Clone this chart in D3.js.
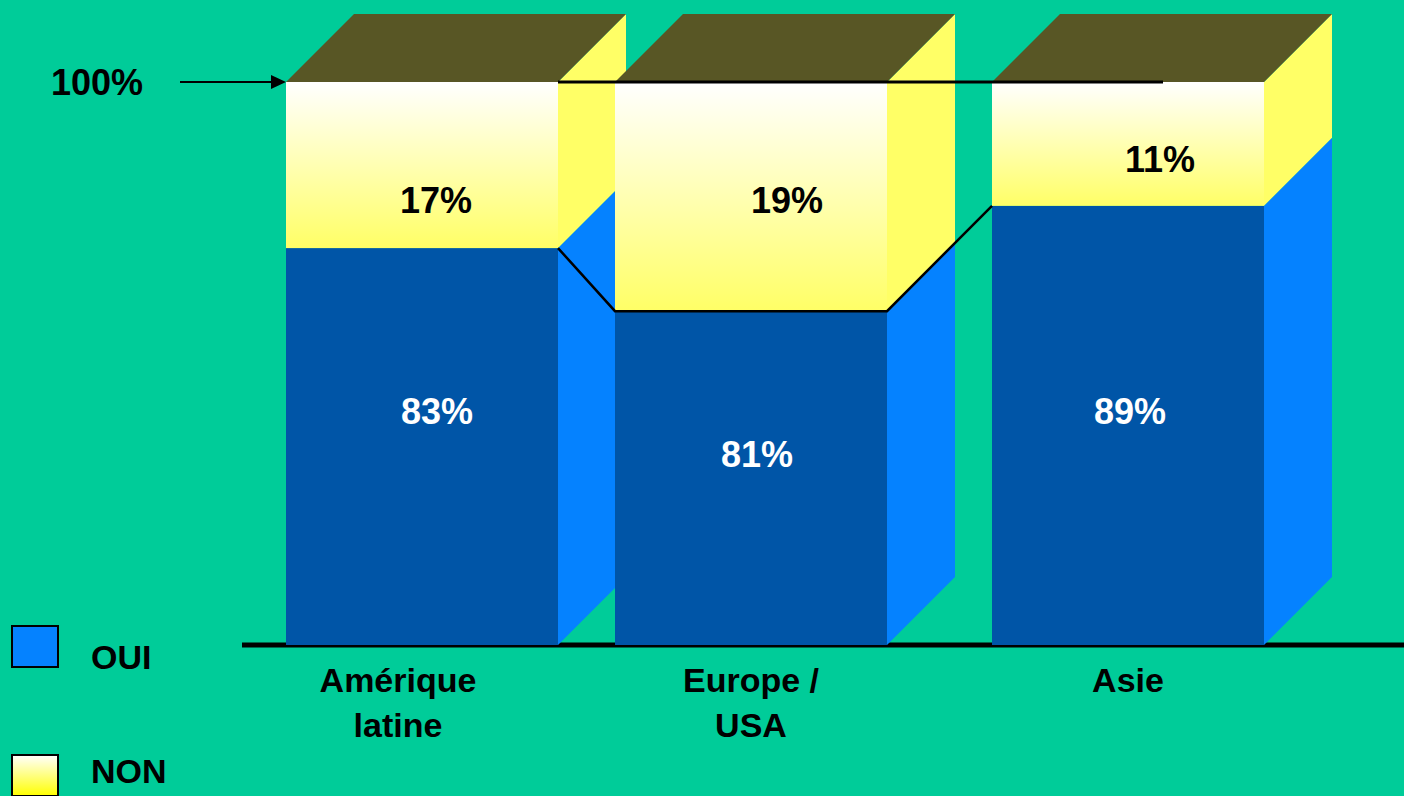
<!DOCTYPE html>
<html><head><meta charset="utf-8">
<script src="https://cdn.jsdelivr.net/npm/d3@7"></script>
<style>
html,body{margin:0;padding:0;background:#00CC99;}
svg{display:block;}
text{font-family:"Liberation Sans",Arial,sans-serif;font-weight:bold;fill:#000;}
</style></head>
<body>
<svg id="chart" width="1404" height="796"></svg>
<script>
// ---- data ----
const categories = ["Amérique latine", "Europe / USA", "Asie"];
const categoryLines = [["Amérique", "latine"], ["Europe /", "USA"], ["Asie"]];
const ouiValues = [83, 81, 89];          // labelled "OUI" share (%)
const nonValues = [17, 19, 11];          // labelled "NON" share (%)
const ouiDrawn = [70.5, 59.3, 78.0];     // height of the blue part as drawn (share of the 100% bar)
const seriesNames = ["OUI", "NON"];
const topLabel = "100%";

// ---- layout ----
const W = 1404, H = 796;
const svg = d3.select("#chart");
const depth = 68;
const barW = 272;

const y = d3.scaleLinear().domain([0, 100]).range([645, 82]);
const x = d3.scaleOrdinal().domain(categories).range([286, 615, 992]);

const colFrontBlue = "#0055A7", colSideBlue = "#0582FF";
const colSideYellow = "#FFFF66", colTop = "#585625";

const defs = svg.append("defs");
const grad = defs.append("linearGradient").attr("id", "nonGrad")
  .attr("x1", 0).attr("y1", 0).attr("x2", 0).attr("y2", 1);
grad.append("stop").attr("offset", "0%").attr("stop-color", "#FFFFFF");
grad.append("stop").attr("offset", "100%").attr("stop-color", "#FFFF66");
const gradL = defs.append("linearGradient").attr("id", "legGrad")
  .attr("x1", 0).attr("y1", 0).attr("x2", 0).attr("y2", 1);
gradL.append("stop").attr("offset", "0%").attr("stop-color", "#FFFFFF");
gradL.append("stop").attr("offset", "100%").attr("stop-color", "#FFFF00");

// background
svg.append("rect").attr("width", W).attr("height", H).attr("fill", "#00CC99");

// axis baseline
svg.append("line").attr("x1", 242).attr("x2", W).attr("y1", y(0)).attr("y2", y(0))
  .attr("stroke", "#000").attr("stroke-width", 5);

const bars = categories.map((c, i) => ({ c, i, oui: ouiValues[i], non: nonValues[i], drawn: ouiDrawn[i] }));

const g = svg.append("g");
bars.forEach(d => {
  const x0 = x(d.c), x1 = x0 + barW;
  const yb = y(0), ys = y(d.drawn), yt = y(100);
  const bg = g.append("g");
  // side faces
  bg.append("polygon").attr("fill", colSideBlue)
    .attr("points", [[x1, yb], [x1 + depth, yb - depth], [x1 + depth, ys - depth], [x1, ys]].join(" "));
  bg.append("polygon").attr("fill", colSideYellow)
    .attr("points", [[x1, ys], [x1 + depth, ys - depth], [x1 + depth, yt - depth], [x1, yt]].join(" "));
  // top face
  bg.append("polygon").attr("fill", colTop)
    .attr("points", [[x0, yt], [x1, yt], [x1 + depth, yt - depth], [x0 + depth, yt - depth]].join(" "));
  // front faces
  bg.append("rect").attr("x", x0).attr("y", ys).attr("width", barW).attr("height", yb - ys).attr("fill", colFrontBlue);
  bg.append("rect").attr("x", x0).attr("y", yt).attr("width", barW).attr("height", ys - yt).attr("fill", "url(#nonGrad)");
});

// connector line between the OUI tops
const conn = [];
bars.forEach((d, i) => {
  const x0 = x(d.c), x1 = x0 + barW, ys = y(d.drawn);
  if (i > 0) conn.push([x0, ys]);
  if (i === 1) conn.push([x1, ys]);
  if (i === 0) conn.push([x1, ys]);
});
svg.append("path").attr("d", d3.line()(conn)).attr("fill", "none")
  .attr("stroke", "#000").attr("stroke-width", 2.5);

// 100% reference line
svg.append("line").attr("x1", x(categories[0]) + barW).attr("x2", 1163)
  .attr("y1", y(100)).attr("y2", y(100)).attr("stroke", "#000").attr("stroke-width", 3);

// 100% arrow
svg.append("line").attr("x1", 180).attr("x2", x(categories[0]) - 12)
  .attr("y1", y(100)).attr("y2", y(100)).attr("stroke", "#000").attr("stroke-width", 2);
svg.append("polygon").attr("fill", "#000")
  .attr("points", [[x(categories[0]) - 15, y(100) - 7], [x(categories[0]), y(100)], [x(categories[0]) - 15, y(100) + 7]].join(" "));
svg.append("text").attr("x", 51).attr("y", y(100) + 13).attr("font-size", 36).text(topLabel);

// value labels (offsets as placed in the reference)
const nonLab = [{dx: 150, y: 213}, {dx: 172, y: 213}, {dx: 168, y: 172}];
const ouiLab = [{dx: 151, y: 424}, {dx: 142, y: 467}, {dx: 138, y: 424}];
bars.forEach((d, i) => {
  const x0 = x(d.c);
  svg.append("text").attr("x", x0 + nonLab[i].dx).attr("y", nonLab[i].y)
    .attr("text-anchor", "middle").attr("font-size", 36).text(d.non + "%");
  svg.append("text").attr("x", x0 + ouiLab[i].dx).attr("y", ouiLab[i].y)
    .attr("text-anchor", "middle").attr("font-size", 36).attr("fill", "#fff")
    .style("fill", "#fff").text(d.oui + "%");
});

// category labels
const catDx = [112, 136, 136];
bars.forEach((d, i) => {
  const t = svg.append("text").attr("text-anchor", "middle").attr("font-size", 34)
    .attr("x", x(d.c) + catDx[i]).attr("y", 692);
  categoryLines[i].forEach((ln, k) => {
    t.append("tspan").attr("x", x(d.c) + catDx[i]).attr("y", 692 + k * 45).text(ln);
  });
});

// legend
const leg = svg.append("g");
const legRectY = [626, 755], legTextY = [669, 783];
seriesNames.forEach((s, i) => {
  leg.append("rect").attr("x", 12).attr("y", legRectY[i]).attr("width", 46).attr("height", 41)
    .attr("fill", i === 0 ? colSideBlue : "url(#legGrad)").attr("stroke", "#000").attr("stroke-width", 2);
  leg.append("text").attr("x", 91).attr("y", legTextY[i]).attr("font-size", 34).text(s);
});
</script>
</body></html>
